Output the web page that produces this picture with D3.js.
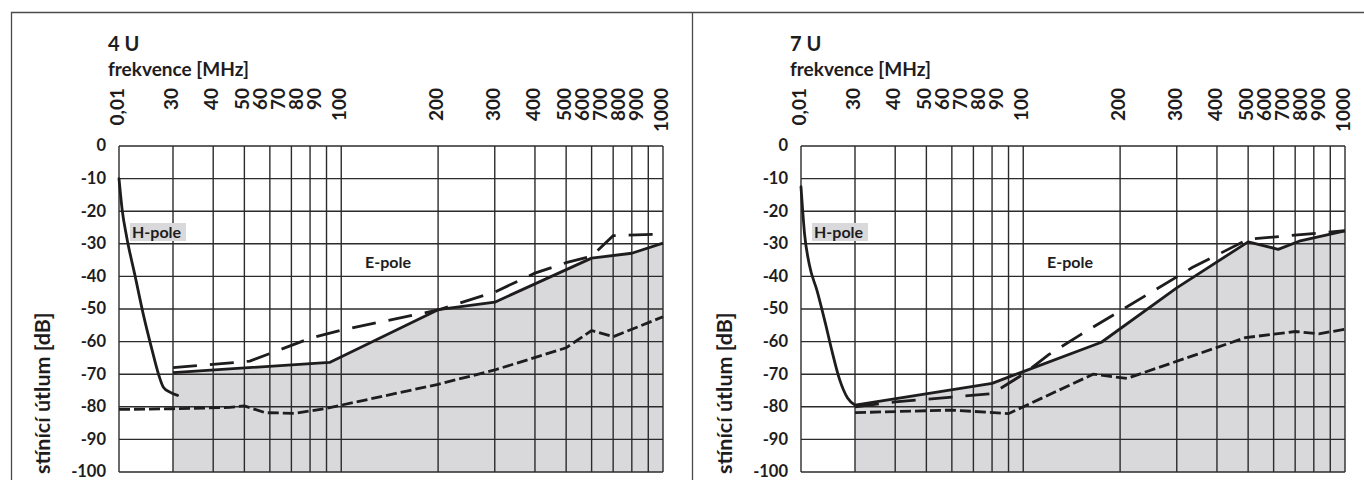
<!DOCTYPE html>
<html><head><meta charset="utf-8">
<script src="https://cdn.jsdelivr.net/npm/d3@7"></script>
<style>
body{margin:0;background:#fff}
svg{display:block}
text{font-family:Lato,"DejaVu Sans",sans-serif;font-weight:700;fill:#1e1c1d}
</style>
</head><body>
<svg id="chart" width="1364" height="480"></svg>
<script>
// ---- data ----
const freqTicks = [0.01, 30, 40, 50, 60, 70, 80, 90, 100, 200, 300, 400, 500, 600, 700, 800, 900, 1000];
const freqTickLabels = ["0,01","30","40","50","60","70","80","90","100","200","300","400","500","600","700","800","900","1000"];
const dbTicks = [0, -10, -20, -30, -40, -50, -60, -70, -80, -90, -100];
const dbTickLabels = ["0","-10","-20","-30","-40","-50","-60","-70","-80","-90","-100"];

const panelTitles = ["4 U", "7 U"];
const xTitle = "frekvence [MHz]";
const yTitle = "stínící útlum [dB]";
const hLabel = "H-pole";
const eLabel = "E-pole";

// 4 U
const u4HFreq = [0.01, 0.016, 0.031, 0.11, 0.39, 1.3, 3.5, 7.2, 19, 31];
const u4HDb   = [-10, -19.6, -27.8, -40, -52.2, -62.3, -70, -74, -75.5, -76.5];
const u4ESolidFreq = [30, 92, 200, 300, 600, 800, 1000];
const u4ESolidDb   = [-69.5, -66.4, -50.2, -47.9, -34.4, -32.9, -29.8];
const u4EDashFreq = [30, 52, 80, 100, 200, 300, 400, 500, 600, 700, 1000];
const u4EDashDb   = [-68, -66, -59, -56.5, -50.3, -44.8, -39, -35.8, -33.8, -27.5, -27];
const u4LowFreq = [0.01, 30, 45, 50, 58, 72, 90, 100, 200, 300, 500, 600, 700, 1000];
const u4LowDb   = [-80.8, -80.6, -80.2, -79.7, -81.8, -82, -80.5, -79.5, -73.1, -68.7, -61.9, -56.6, -58.5, -52.4];

// 7 U
const u7HFreq = [0.01, 0.017, 0.034, 0.11, 0.39, 1, 3, 10, 30];
const u7HDb   = [-12.5, -27, -36.3, -44.5, -54.8, -63, -71.5, -77.3, -79.5];
const u7ESolidFreq = [30, 80, 100, 175, 300, 500, 620, 720, 1000];
const u7ESolidDb   = [-79.5, -72.8, -69.2, -60.2, -43.5, -29.4, -31.7, -29.2, -26];
const u7EDashFreq = [30, 40, 60, 80, 100, 120, 150, 207, 335, 500, 1000];
const u7EDashDb   = [-80, -78.5, -77, -76, -70, -64, -58, -49.7, -37.3, -28.6, -26];
const u7LowFreq = [30, 60, 90, 165, 210, 490, 700, 830, 1000];
const u7LowDb   = [-81.8, -81, -82.1, -70, -71.3, -58.8, -56.9, -57.6, -56.2];

const panels = [
  {title: panelTitles[0], h:[u4HFreq,u4HDb], es:[u4ESolidFreq,u4ESolidDb], ed:[u4EDashFreq,u4EDashDb], lo:[u4LowFreq,u4LowDb]},
  {title: panelTitles[1], h:[u7HFreq,u7HDb], es:[u7ESolidFreq,u7ESolidDb], ed:[u7EDashFreq,u7EDashDb], lo:[u7LowFreq,u7LowDb]}
];

// ---- drawing ----
const svg = d3.select("#chart");
const ink = "#1e1c1d", gridInk = "#2b2b2b", fillGray = "#d9d9db";

// frame
svg.append("path").attr("d","M11.5,480V12.5H1364M692.5,12.5V480")
  .attr("fill","none").attr("stroke","#4a4a4a").attr("stroke-width",1.3);

const L = 119, R = 663, T = 146, B = 472;
const x = d3.scaleLog().domain([0.01, 30, 1000]).range([L, 173, R]);
const y = d3.scaleLinear().domain([0, -100]).range([T, B]);
const zip = (a,b) => a.map((v,i)=>[v,b[i]]);

// tick label positions: crowded runs are packed evenly
function labelPositions(){
  const g = freqTicks.map(t => x(t));
  const pos = g.map(v => v - 2);
  let i = 0;
  while (i < g.length) {
    let j = i;
    while (j + 1 < g.length && g[j+1] - g[j] < 26) j++;
    if (j > i) {
      pos[i] = g[i] - 2;
      for (let k = i+1; k < j; k++) pos[k] = pos[k-1] + 18;
      pos[j] = g[j] - 2;
    }
    i = j + 1;
  }
  return pos;
}
const lblX = labelPositions();

panels.forEach((p, pi) => {
  const gp = svg.append("g").attr("transform", `translate(${pi*682},0)`);

  // titles
  gp.append("text").attr("x",108).attr("y",51).attr("font-size",20).text(p.title);
  gp.append("text").attr("x",108).attr("y",76).attr("font-size",19).text(xTitle);

  // top tick labels (rotated)
  freqTicks.forEach((t,i) => {
    gp.append("text")
      .attr("transform",`translate(${lblX[i]},88) rotate(-90)`)
      .attr("text-anchor","end").attr("dy","0.36em")
      .attr("font-size",19).text(freqTickLabels[i]);
  });

  // y tick labels
  dbTicks.forEach((d,i) => {
    gp.append("text").attr("x",106).attr("y",y(d)).attr("dy","0.33em")
      .attr("text-anchor","end").attr("font-size",16.5).text(dbTickLabels[i]);
  });

  // y title
  gp.append("text").attr("transform","translate(50,474) rotate(-90)")
    .attr("font-size",21.5).text(yTitle);

  // shaded area under solid E-pole curve
  const area = d3.area().x(d=>x(d[0])).y0(y(-100)).y1(d=>y(d[1]));
  gp.append("path").datum(zip(p.es[0],p.es[1])).attr("d",area).attr("fill",fillGray);

  // grid
  const grid = gp.append("g").attr("stroke",gridInk).attr("stroke-width",1.4);
  dbTicks.forEach(d => grid.append("line").attr("x1",L).attr("x2",R).attr("y1",y(d)).attr("y2",y(d)));
  freqTicks.forEach(t => grid.append("line").attr("x1",x(t)).attr("x2",x(t)).attr("y1",T).attr("y2",B));

  // labels in plot
  gp.append("rect").attr("x",130).attr("y",223).attr("width",56).attr("height",18).attr("fill",fillGray);
  gp.append("text").attr("x",132).attr("y",238).attr("font-size",16).text(hLabel);
  gp.append("text").attr("x",365).attr("y",268).attr("font-size",16).text(eLabel);

  // curves
  const lineLin = d3.line().x(d=>x(d[0])).y(d=>y(d[1]));
  const lineSmooth = d3.line().x(d=>x(d[0])).y(d=>y(d[1])).curve(d3.curveMonotoneX);
  gp.append("path").datum(zip(p.lo[0],p.lo[1])).attr("d",lineLin)
    .attr("fill","none").attr("stroke",ink).attr("stroke-width",2.8).attr("stroke-dasharray","11,4");
  gp.append("path").datum(zip(p.ed[0],p.ed[1])).attr("d",lineLin)
    .attr("fill","none").attr("stroke",ink).attr("stroke-width",2.8).attr("stroke-dasharray","24,13");
  gp.append("path").datum(zip(p.es[0],p.es[1])).attr("d",lineLin)
    .attr("fill","none").attr("stroke",ink).attr("stroke-width",2.8).attr("stroke-linejoin","round");
  gp.append("path").datum(zip(p.h[0],p.h[1])).attr("d",lineSmooth)
    .attr("fill","none").attr("stroke",ink).attr("stroke-width",2.8).attr("stroke-linecap","round");
});
</script>
</body></html>
